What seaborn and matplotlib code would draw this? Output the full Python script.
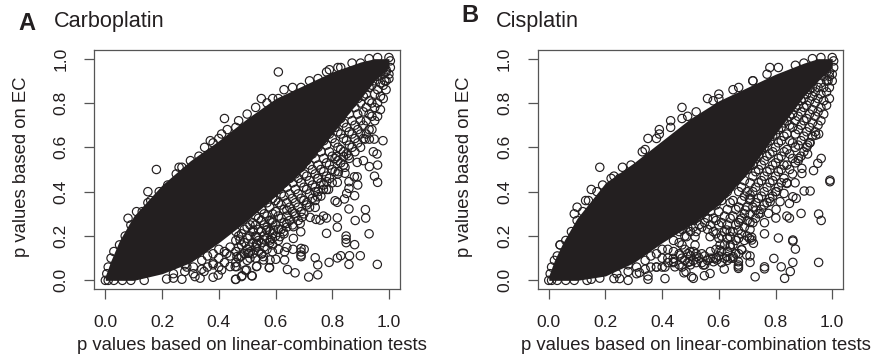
# coding: utf-8
import numpy as np
import seaborn as sns
import matplotlib
matplotlib.use("Agg")
import matplotlib.pyplot as plt

ticks = [0.0, 0.2, 0.4, 0.6, 0.8, 1.0]
tick_labels = ["0.0", "0.2", "0.4", "0.6", "0.8", "1.0"]
xlab = "p values based on linear-combination tests"
ylab = "p values based on EC"

# saturated part of each cloud, where single circles can't be read any more
core_x = [0.0, 0.02, 0.05, 0.1, 0.2, 0.3, 0.4, 0.5, 0.6, 0.7, 0.8, 0.9, 0.95, 1.0]
a_core_hi = [0.02, 0.09, 0.18, 0.29, 0.43, 0.54, 0.63, 0.73, 0.82, 0.88, 0.94, 0.985, 1.0, 1.0]
a_core_lo = [0.0, 0.0, 0.0, 0.0, 0.03, 0.08, 0.17, 0.27, 0.38, 0.50, 0.66, 0.82, 0.90, 0.96]
b_core_hi = [0.02, 0.09, 0.17, 0.28, 0.44, 0.53, 0.63, 0.73, 0.81, 0.87, 0.93, 0.98, 1.0, 1.0]
b_core_lo = [0.0, 0.0, 0.0, 0.0, 0.02, 0.08, 0.17, 0.25, 0.34, 0.48, 0.66, 0.83, 0.90, 0.96]

a_edge = [(0.0, 0.0), (0.01, 0.0), (0.03, 0.0), (0.06, 0.0), (0.09, 0.0), (0.005, 0.03), (0.01, 0.06), (0.02, 0.10),
          (0.03, 0.13), (0.05, 0.16), (0.07, 0.20), (0.09, 0.25), (0.11, 0.31), (0.13, 0.31), (0.16, 0.36), (0.19, 0.40),
          (0.22, 0.43), (0.25, 0.48), (0.27, 0.51), (0.26, 0.51), (0.33, 0.56), (0.35, 0.60), (0.38, 0.62), (0.43, 0.68),
          (0.46, 0.69), (0.50, 0.75), (0.53, 0.78), (0.57, 0.80), (0.59, 0.82), (0.69, 0.87), (0.72, 0.90), (0.75, 0.91),
          (0.78, 0.94), (0.82, 0.96), (0.90, 0.98), (0.93, 1.0), (0.96, 1.005), (1.0, 1.005), (1.005, 0.99),
          (1.005, 0.96), (1.0, 0.93), (1.0, 0.91), (0.985, 0.90), (0.99, 0.94)]
# (x, [y, y, ...]) read column by column through the meshed part under the core
a_mesh = [(0.34, [0.05, 0.09]), (0.38, [0.07, 0.12]), (0.42, [0.08, 0.13]), (0.44, [0.11, 0.15]),
          (0.46, [0.08, 0.13, 0.18, 0.22]), (0.48, [0.11, 0.16, 0.21]), (0.50, [0.09, 0.14, 0.19, 0.24]),
          (0.52, [0.12, 0.17, 0.22, 0.26]), (0.54, [0.13, 0.18, 0.23, 0.28]), (0.56, [0.15, 0.20, 0.25, 0.30]),
          (0.58, [0.17, 0.22, 0.27, 0.33]), (0.60, [0.20, 0.25, 0.31, 0.36]), (0.62, [0.23, 0.28, 0.34, 0.39]),
          (0.64, [0.24, 0.29, 0.35, 0.42]), (0.66, [0.25, 0.31, 0.37, 0.44]), (0.68, [0.27, 0.33, 0.39, 0.46]),
          (0.70, [0.30, 0.36, 0.42, 0.48]), (0.72, [0.33, 0.39, 0.45, 0.52]), (0.74, [0.36, 0.42, 0.48, 0.55]),
          (0.76, [0.38, 0.44, 0.50, 0.58]), (0.78, [0.41, 0.47, 0.53, 0.61]), (0.80, [0.44, 0.50, 0.56, 0.64]),
          (0.82, [0.48, 0.54, 0.60, 0.67]), (0.84, [0.52, 0.58, 0.64, 0.71]), (0.86, [0.55, 0.61, 0.67, 0.75]),
          (0.88, [0.58, 0.64, 0.70, 0.78]), (0.90, [0.60, 0.66, 0.72, 0.80]), (0.92, [0.66, 0.72, 0.78, 0.84]),
          (0.94, [0.68, 0.74, 0.80, 0.88]), (0.96, [0.74, 0.80, 0.86, 0.92]), (0.98, [0.82, 0.88, 0.93]),
          (0.24, [0.03]), (0.28, [0.04, 0.07]), (0.31, [0.03, 0.06]), (0.36, [0.06, 0.11]), (0.40, [0.06, 0.10, 0.14]),
          (0.47, [0.10, 0.15, 0.20]), (0.49, [0.12, 0.17, 0.23]), (0.51, [0.10, 0.15, 0.20, 0.25]),
          (0.53, [0.10, 0.15, 0.20, 0.25, 0.29]), (0.55, [0.12, 0.17, 0.22, 0.27, 0.32]),
          (0.57, [0.14, 0.19, 0.24, 0.29, 0.35]), (0.59, [0.16, 0.21, 0.26, 0.30, 0.37]),
          (0.61, [0.18, 0.23, 0.29, 0.35, 0.41]), (0.63, [0.21, 0.26, 0.32, 0.38, 0.44]), (0.65, [0.27, 0.33, 0.39, 0.46]),
          (0.67, [0.29, 0.35, 0.41, 0.48]), (0.69, [0.31, 0.37, 0.44, 0.51]), (0.71, [0.35, 0.41, 0.47, 0.54]),
          (0.73, [0.37, 0.43, 0.50, 0.57]), (0.75, [0.40, 0.46, 0.52, 0.60]), (0.77, [0.43, 0.49, 0.55, 0.63]),
          (0.79, [0.46, 0.52, 0.58, 0.66]), (0.81, [0.49, 0.55, 0.62, 0.69]), (0.83, [0.53, 0.59, 0.66, 0.73]),
          (0.85, [0.57, 0.63, 0.69, 0.77]), (0.87, [0.60, 0.66, 0.72, 0.80]), (0.89, [0.62, 0.68, 0.75, 0.82]),
          (0.91, [0.64, 0.70, 0.76, 0.83]), (0.93, [0.68, 0.75, 0.81, 0.87]), (0.95, [0.72, 0.78, 0.84, 0.90]),
          (0.97, [0.77, 0.83, 0.89, 0.94]), (0.99, [0.86, 0.90, 0.95])]
a_sparse = [(0.61, 0.94), (0.42, 0.73), (0.47, 0.72), (0.18, 0.50), (0.15, 0.40), (0.30, 0.54), (0.08, 0.28), (0.15, 0.35),
            (0.37, 0.63), (0.40, 0.64), (0.41, 0.66), (0.55, 0.82), (0.61, 0.82), (0.66, 0.87), (0.63, 0.86), (0.79, 0.95),
            (0.87, 0.98), (0.83, 0.96), (0.979, 0.630), (0.948, 0.637), (0.916, 0.637), (0.931, 0.637), (0.958, 0.570),
            (0.945, 0.580), (0.960, 0.520), (0.931, 0.513), (0.910, 0.540), (0.888, 0.532), (0.949, 0.470), (0.960, 0.442),
            (0.888, 0.467), (0.878, 0.467), (0.890, 0.430), (0.859, 0.445), (0.859, 0.415), (0.879, 0.382), (0.851, 0.392),
            (0.843, 0.367), (0.818, 0.442), (0.810, 0.359), (0.818, 0.352), (0.859, 0.322), (0.917, 0.319), (0.918, 0.281),
            (0.881, 0.270), (0.818, 0.282), (0.818, 0.240), (0.930, 0.210), (0.879, 0.161), (0.849, 0.200), (0.849, 0.185),
            (0.849, 0.170), (0.780, 0.212), (0.899, 0.111), (0.861, 0.111), (0.859, 0.072), (0.959, 0.072), (0.830, 0.111),
            (0.818, 0.101), (0.789, 0.081), (0.740, 0.102), (0.749, 0.070), (0.749, 0.025), (0.717, 0.015), (0.669, 0.034),
            (0.642, 0.049), (0.690, 0.144), (0.701, 0.140), (0.690, 0.128), (0.690, 0.114), (0.690, 0.107), (0.662, 0.140),
            (0.640, 0.149), (0.610, 0.140), (0.632, 0.129), (0.589, 0.129), (0.589, 0.189), (0.561, 0.182), (0.534, 0.159),
            (0.552, 0.119), (0.579, 0.058), (0.516, 0.021), (0.459, 0.004), (0.482, 0.021), (0.534, 0.064), (0.601, 0.095),
            (0.581, 0.092), (0.632, 0.092), (0.558, 0.092), (0.780, 0.281), (0.769, 0.290), (0.757, 0.272), (0.743, 0.275),
            (0.722, 0.284), (0.710, 0.340), (0.740, 0.329), (0.740, 0.400), (0.748, 0.377), (0.769, 0.410), (0.787, 0.410),
            (0.781, 0.445), (0.748, 0.460), (0.822, 0.490), (0.845, 0.510), (0.845, 0.483), (0.816, 0.558), (0.840, 0.558),
            (0.857, 0.562), (0.689, 0.219), (0.663, 0.242), (0.663, 0.189), (0.640, 0.257), (0.669, 0.302), (0.693, 0.284),
            (0.687, 0.257), (0.628, 0.219), (0.616, 0.197), (0.593, 0.227), (0.569, 0.227), (0.587, 0.272), (0.640, 0.317),
            (0.581, 0.182), (0.534, 0.197), (0.505, 0.122), (0.464, 0.107), (0.458, 0.062), (0.493, 0.046), (0.510, 0.129),
            (0.137, 0.0), (0.216, 0.006), (0.24, 0.01), (0.27, 0.005), (0.316, 0.017), (0.334, 0.01), (0.38, 0.014),
            (0.398, 0.024), (0.41, 0.047), (0.46, 0.005), (0.48, 0.017), (0.518, 0.02), (0.498, 0.047), (0.463, 0.062),
            (0.44, 0.062), (0.533, 0.062), (0.578, 0.057), (0.348, 0.04), (0.287, 0.06), (0.38, 0.077), (0.428, 0.122),
            (0.475, 0.107), (0.504, 0.122), (0.557, 0.107), (0.533, 0.167), (0.475, 0.182), (0.522, 0.227), (0.569, 0.227)]

b_edge = [(0.0, 0.0), (0.01, 0.0), (0.03, 0.0), (0.06, 0.0), (0.09, 0.0), (0.005, 0.03), (0.01, 0.06), (0.02, 0.09),
          (0.03, 0.11), (0.04, 0.16), (0.06, 0.18), (0.08, 0.22), (0.10, 0.27), (0.12, 0.31), (0.14, 0.36), (0.17, 0.40),
          (0.19, 0.43), (0.22, 0.46), (0.23, 0.47), (0.25, 0.46), (0.29, 0.52), (0.33, 0.58), (0.34, 0.59), (0.38, 0.64),
          (0.39, 0.66), (0.43, 0.69), (0.47, 0.73), (0.49, 0.74), (0.52, 0.76), (0.58, 0.81), (0.60, 0.82), (0.65, 0.86),
          (0.67, 0.87), (0.72, 0.90), (0.77, 0.93), (0.87, 0.97), (0.90, 0.98), (0.93, 1.0), (0.96, 1.005), (1.0, 1.005),
          (1.005, 0.99), (1.005, 0.96), (1.0, 0.93), (1.0, 0.90), (0.985, 0.90), (0.99, 0.94)]
b_mesh = [(0.34, [0.05, 0.09]), (0.38, [0.06, 0.12]), (0.42, [0.08, 0.14]), (0.44, [0.08, 0.13, 0.18]),
          (0.46, [0.07, 0.12, 0.17, 0.22]), (0.48, [0.09, 0.14, 0.20, 0.25]), (0.50, [0.07, 0.11, 0.22, 0.27]),
          (0.52, [0.08, 0.12, 0.22, 0.28]), (0.54, [0.08, 0.12, 0.24, 0.30]), (0.56, [0.09, 0.23, 0.28, 0.33]),
          (0.58, [0.10, 0.22, 0.28, 0.35]), (0.60, [0.11, 0.19, 0.25, 0.31, 0.37]), (0.62, [0.10, 0.16, 0.22, 0.29, 0.39]),
          (0.64, [0.10, 0.15, 0.22, 0.28, 0.35, 0.42]), (0.66, [0.12, 0.18, 0.25, 0.32, 0.45]),
          (0.68, [0.14, 0.21, 0.28, 0.36, 0.42, 0.48]), (0.70, [0.20, 0.27, 0.33, 0.40, 0.50]),
          (0.72, [0.26, 0.33, 0.40, 0.47, 0.52]), (0.74, [0.30, 0.37, 0.44, 0.50, 0.56]),
          (0.76, [0.34, 0.40, 0.47, 0.54, 0.60]), (0.78, [0.37, 0.44, 0.50, 0.57, 0.63]),
          (0.80, [0.40, 0.47, 0.53, 0.60, 0.66]), (0.82, [0.44, 0.50, 0.56, 0.63, 0.69]),
          (0.84, [0.44, 0.52, 0.59, 0.66, 0.72]), (0.86, [0.48, 0.55, 0.62, 0.69, 0.75]),
          (0.88, [0.54, 0.61, 0.68, 0.74, 0.79]), (0.90, [0.58, 0.65, 0.72, 0.78, 0.82]),
          (0.92, [0.62, 0.69, 0.75, 0.81, 0.86]), (0.94, [0.67, 0.74, 0.80, 0.85]), (0.96, [0.72, 0.78, 0.84, 0.89]),
          (0.98, [0.79, 0.85, 0.90, 0.94]),
          (0.24, [0.03]), (0.28, [0.04, 0.07]), (0.31, [0.03, 0.06]), (0.36, [0.06, 0.11]), (0.40, [0.06, 0.10, 0.14]),
          (0.47, [0.10, 0.16, 0.23]), (0.49, [0.08, 0.12, 0.24]), (0.51, [0.09, 0.13, 0.24, 0.27]),
          (0.53, [0.10, 0.25, 0.29]), (0.55, [0.07, 0.11, 0.26, 0.31]), (0.57, [0.10, 0.13, 0.25, 0.31]),
          (0.59, [0.10, 0.14, 0.21, 0.27, 0.34]), (0.61, [0.08, 0.13, 0.20, 0.26, 0.36]),
          (0.63, [0.09, 0.13, 0.19, 0.25, 0.32, 0.40]), (0.65, [0.10, 0.16, 0.22, 0.29, 0.36, 0.44]),
          (0.67, [0.12, 0.19, 0.26, 0.33, 0.40, 0.47]), (0.69, [0.18, 0.24, 0.30, 0.38, 0.45, 0.50]),
          (0.71, [0.23, 0.30, 0.37, 0.44, 0.52]), (0.73, [0.28, 0.35, 0.42, 0.49, 0.55]),
          (0.75, [0.32, 0.38, 0.45, 0.52, 0.59]), (0.77, [0.35, 0.42, 0.49, 0.56, 0.62]),
          (0.79, [0.38, 0.45, 0.52, 0.58, 0.65]), (0.81, [0.42, 0.49, 0.55, 0.62, 0.68]),
          (0.83, [0.46, 0.52, 0.58, 0.65, 0.71]), (0.85, [0.50, 0.57, 0.63, 0.70, 0.74]),
          (0.87, [0.53, 0.60, 0.66, 0.72, 0.78]), (0.89, [0.56, 0.63, 0.70, 0.76, 0.81]),
          (0.91, [0.60, 0.67, 0.73, 0.79, 0.84]), (0.93, [0.65, 0.71, 0.77, 0.83, 0.87]),
          (0.95, [0.70, 0.76, 0.82, 0.87]), (0.97, [0.75, 0.81, 0.87, 0.92]), (0.99, [0.82, 0.87, 0.92])]
b_sparse = [(0.18, 0.51), (0.26, 0.51), (0.10, 0.33), (0.09, 0.30), (0.15, 0.41), (0.13, 0.36), (0.04, 0.16), (0.47, 0.78),
            (0.56, 0.82), (0.60, 0.84), (0.39, 0.68), (0.35, 0.64), (0.43, 0.72), (0.78, 0.96), (0.81, 0.96), (0.72, 0.90),
            (0.992, 0.445), (0.992, 0.452), (0.961, 0.550), (0.949, 0.528), (0.934, 0.495), (0.942, 0.655), (0.952, 0.660),
            (0.922, 0.403), (0.901, 0.403), (0.890, 0.302), (0.952, 0.299), (0.961, 0.270), (0.849, 0.281), (0.840, 0.290),
            (0.810, 0.191), (0.861, 0.182), (0.861, 0.177), (0.870, 0.141), (0.952, 0.081), (0.861, 0.081), (0.794, 0.099),
            (0.820, 0.061), (0.852, 0.040), (0.832, 0.009), (0.761, 0.061), (0.761, 0.052), (0.728, 0.016), (0.569, 0.031),
            (0.549, 0.021), (0.510, 0.009), (0.504, 0.016), (0.484, 0.039), (0.477, 0.034), (0.619, 0.051), (0.669, 0.084),
            (0.669, 0.069), (0.669, 0.061), (0.669, 0.054), (0.710, 0.081), (0.710, 0.110), (0.698, 0.114), (0.761, 0.210),
            (0.761, 0.260), (0.801, 0.281), (0.716, 0.194), (0.716, 0.182), (0.708, 0.189), (0.722, 0.167), (0.710, 0.261),
            (0.693, 0.317), (0.731, 0.317), (0.746, 0.302), (0.775, 0.302), (0.802, 0.320), (0.816, 0.355), (0.849, 0.347),
            (0.861, 0.377), (0.873, 0.370), (0.830, 0.392), (0.881, 0.550), (0.893, 0.505), (0.893, 0.482), (0.913, 0.570),
            (0.913, 0.610), (0.922, 0.621), (0.869, 0.440), (0.840, 0.437), (0.804, 0.400), (0.781, 0.355), (0.710, 0.362),
            (0.710, 0.385), (0.681, 0.137), (0.651, 0.107), (0.628, 0.107), (0.604, 0.137), (0.604, 0.159), (0.640, 0.159),
            (0.640, 0.197), (0.669, 0.227), (0.675, 0.272), (0.628, 0.227), (0.569, 0.197), (0.581, 0.084), (0.545, 0.069),
            (0.522, 0.107), (0.498, 0.129), (0.516, 0.159), (0.498, 0.084), (0.445, 0.061), (0.439, 0.099), (0.463, 0.114),
            (0.486, 0.197), (0.516, 0.197), (0.593, 0.092), (0.135, 0.0), (0.15, 0.005), (0.18, 0.01), (0.23, 0.008),
            (0.25, 0.008), (0.28, 0.0), (0.35, 0.005), (0.41, 0.008), (0.35, 0.02), (0.32, 0.035), (0.38, 0.06), (0.41, 0.06),
            (0.44, 0.085), (0.42, 0.10), (0.47, 0.06)]

sns.set_style("white")
plt.rcParams["font.family"] = ["Liberation Sans", "DejaVu Sans"]
fig = plt.figure(figsize=(8.72, 3.56), dpi=100)
ink = "#231f20"
W, H = 872.0, 356.0


def panel(left, right, edge, mesh, sparse, core_hi, core_lo):
    ax = fig.add_axes([left / W, 1 - 289 / H, (right - left) / W, 239 / H])
    ax.fill_between(core_x, core_lo, core_hi, color=ink, lw=0, zorder=1)
    cols = [(x, y) for x, ys in mesh for y in ys]
    pts = np.array(edge + cols + sparse)
    sns.scatterplot(x=pts[:, 0], y=pts[:, 1], s=36, facecolor="none", edgecolor=ink, linewidth=0.85, ax=ax, zorder=2)
    ax.set_xlim(-0.039, 1.039)
    ax.set_ylim(-0.039, 1.039)
    ax.set_xticks(ticks)
    ax.set_xticklabels(tick_labels, fontsize=12.6, color=ink)
    ax.set_yticks(ticks)
    ax.set_yticklabels(tick_labels, fontsize=12.6, color=ink, rotation=90, va="center")
    ax.tick_params(axis="x", length=7.5, width=0.9, color="#555555", pad=11.5, bottom=True)
    ax.tick_params(axis="y", length=7.5, width=0.9, color="#555555", pad=11, left=True)
    for s in ax.spines.values():
        s.set_color("#555555")
        s.set_linewidth(0.9)
    return ax


ax_a = panel(94.3, 400, a_edge, a_mesh, a_sparse, a_core_hi, a_core_lo)
ax_b = panel(537.7, 843.3, b_edge, b_mesh, b_sparse, b_core_hi, b_core_lo)

fig.text(252 / W, 1 - 346 / H, xlab, fontsize=13.3, color=ink, ha="center", va="center")
fig.text(695.5 / W, 1 - 346 / H, xlab, fontsize=13.3, color=ink, ha="center", va="center")
fig.text(21 / W, 1 - 167 / H, ylab, fontsize=13.3, color=ink, ha="center", va="center", rotation=90)
fig.text(464 / W, 1 - 167 / H, ylab, fontsize=13.3, color=ink, ha="center", va="center", rotation=90)
fig.text(18 / W, 1 - 23 / H, "A", fontsize=17, fontweight="bold", color=ink, va="center")
fig.text(54 / W, 1 - 21 / H, "Carboplatin", fontsize=15.6, color=ink, va="center")
fig.text(461 / W, 1 - 16 / H, "B", fontsize=17, fontweight="bold", color=ink, va="center")
fig.text(496 / W, 1 - 21 / H, "Cisplatin", fontsize=15.6, color=ink, va="center")

fig.savefig("out.png", dpi=100)
